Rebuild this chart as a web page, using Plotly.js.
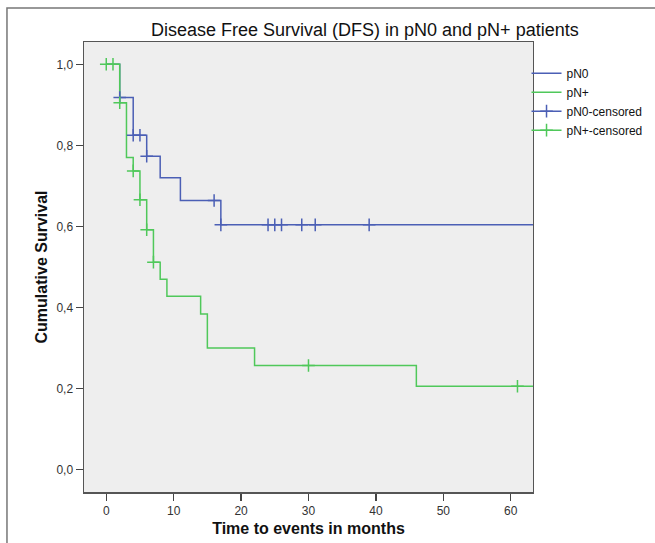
<!DOCTYPE html>
<html>
<head>
<meta charset="utf-8">
<script src="https://cdn.plot.ly/plotly-3.0.1.min.js"></script>
<style>html,body{margin:0;padding:0;background:#fff;}#chart{width:655px;height:543px;}</style>
</head>
<body>
<div id="chart"></div>
<script>
// Kaplan-Meier step data
const pN0Time = [0, 2, 4, 6, 8, 11, 17, 63.3];
const pN0Surv = [1.0, 0.918, 0.825, 0.773, 0.720, 0.664, 0.604, 0.604];
const pN0CensTime = [2, 4, 5, 6, 16, 17, 24, 25, 26, 29, 31, 39];
const pN0CensSurv = [0.918, 0.825, 0.825, 0.773, 0.664, 0.604, 0.604, 0.604, 0.604, 0.604, 0.604, 0.604];

const pNpTime = [0, 2, 3, 4, 5, 6, 7, 8, 9, 14, 15, 22, 46, 63.3];
const pNpSurv = [1.0, 0.905, 0.770, 0.737, 0.666, 0.592, 0.512, 0.470, 0.428, 0.384, 0.300, 0.257, 0.206, 0.206];
const pNpCensTime = [0, 1, 2, 4, 5, 6, 7, 30, 61];
const pNpCensSurv = [1.0, 1.0, 0.905, 0.737, 0.666, 0.592, 0.512, 0.257, 0.206];

const xTickVals = [0, 10, 20, 30, 40, 50, 60];
const yTickVals = [0, 0.2, 0.4, 0.6, 0.8, 1.0];

const blue = '#4b5fb5';
const green = '#4fc85a';

// isolate censor points so no segments join them (legend still shows line + cross)
function isolate(arr) {
  const out = [];
  arr.forEach((v, i) => { if (i > 0) out.push(null); out.push(v); });
  return out;
}

const traces = [
  {x: pN0Time, y: pN0Surv, name: 'pN0', mode: 'lines', line: {color: blue, width: 1.5, shape: 'hv'}},
  {x: pNpTime, y: pNpSurv, name: 'pN+', mode: 'lines', line: {color: green, width: 1.5, shape: 'hv'}},
  {x: isolate(pN0CensTime), y: isolate(pN0CensSurv), name: 'pN0-censored', mode: 'lines+markers', connectgaps: false,
   line: {color: blue, width: 1.5},
   marker: {symbol: 'cross-thin', size: 9, color: blue, line: {color: blue, width: 1.5}}},
  {x: isolate(pNpCensTime), y: isolate(pNpCensSurv), name: 'pN+-censored', mode: 'lines+markers', connectgaps: false,
   line: {color: green, width: 1.5},
   marker: {symbol: 'cross-thin', size: 9, color: green, line: {color: green, width: 1.5}}}
];

// paper spans x 84..655 px (571 px); plot occupies 84..533 px
const layout = {
  width: 655, height: 543,
  margin: {l: 84, r: 0, t: 42, b: 51},
  paper_bgcolor: '#ffffff',
  plot_bgcolor: '#eeeeee',
  separators: ', ',
  font: {family: 'Liberation Sans, Arial, sans-serif', color: '#222', size: 12},
  title: {text: 'Disease Free Survival (DFS) in pN0 and pN+ patients',
          font: {size: 18, color: '#111'}, x: 0.557, xanchor: 'center', xref: 'container',
          y: 0.945, yanchor: 'middle', yref: 'container'},
  xaxis: {domain: [0, 0.7863], range: [-3.3, 63.3], tickvals: xTickVals, ticks: 'outside', ticklen: 7, tickwidth: 1.5,
          tickcolor: '#444', showgrid: false, zeroline: false, showline: true, mirror: true,
          linecolor: '#555', linewidth: 1.5, tickfont: {size: 12, color: '#333'}, automargin: false,
          title: {text: '<b>Time to events in months</b>', font: {size: 16, color: '#111'}, standoff: 6}},
  yaxis: {range: [-0.055, 1.055], tickvals: yTickVals, tickformat: '.1f', ticks: 'outside', ticklen: 7, tickwidth: 1.5,
          tickcolor: '#444', showgrid: false, zeroline: false, showline: true, mirror: true,
          linecolor: '#555', linewidth: 1.5, tickfont: {size: 12, color: '#333'}, automargin: false,
          title: {text: '<b>Cumulative Survival</b>', font: {size: 16, color: '#111'}, standoff: 5}},
  legend: {xref: 'paper', yref: 'paper', x: 0.775, xanchor: 'left', y: 0.963, yanchor: 'top',
           bgcolor: 'rgba(0,0,0,0)', font: {size: 12, color: '#111'}, itemwidth: 30, tracegroupgap: 0},
  showlegend: true,
  shapes: [
    {type: 'rect', xref: 'paper', yref: 'paper', x0: -0.1349, x1: 1.2, y0: -0.25, y1: 1.0756,
     line: {color: '#777', width: 1.5}, fillcolor: 'rgba(0,0,0,0)', layer: 'below'}
  ]
};

Plotly.newPlot('chart', traces, layout, {displayModeBar: false, staticPlot: true});
</script>
</body>
</html>
